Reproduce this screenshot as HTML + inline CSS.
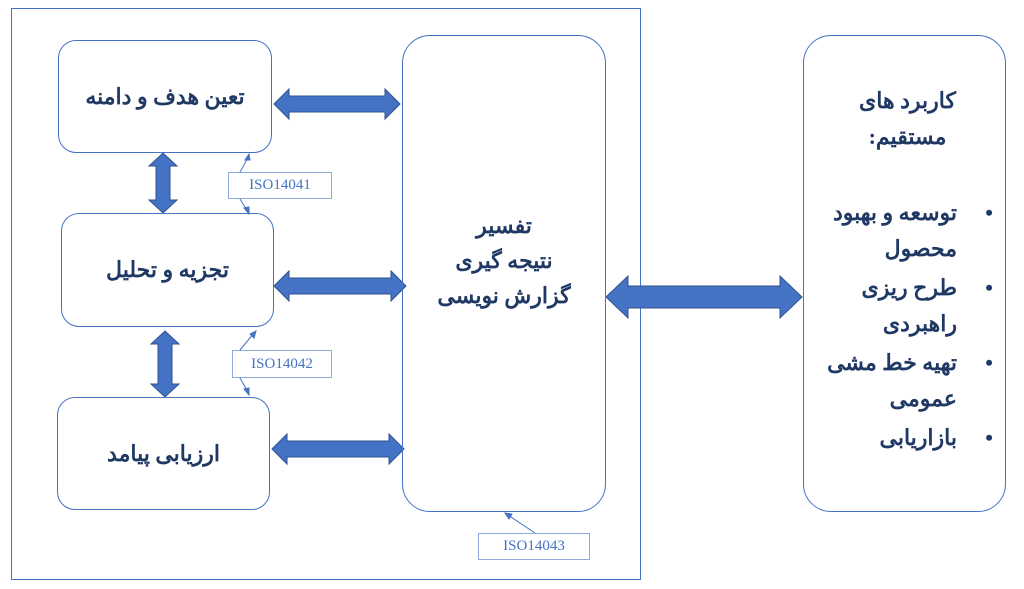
<!DOCTYPE html>
<html><head><meta charset="utf-8"><style>
body{margin:0;width:1024px;height:589px;background:#fff;position:relative;overflow:hidden;font-family:"Liberation Serif","Noto Sans CJK SC",serif;}
.b{position:absolute;border:1px solid #4472c4;border-radius:18px;box-sizing:border-box;display:flex;align-items:center;justify-content:center;text-align:center;color:#1f3864;font-size:22px;font-weight:bold;direction:rtl;}
.iso{position:absolute;border:1px solid #8faadc;box-sizing:border-box;color:#4472c4;font-size:15px;display:flex;align-items:center;justify-content:center;background:#fff;}
svg{position:absolute;left:0;top:0}
ul{list-style:none;margin:0;padding:0 48px 0 0;}
li{position:relative;margin-bottom:3px}
li::before{content:"•";position:absolute;right:-36px;top:0;}
</style></head><body>
<svg width="1024" height="589">
<rect x="11.5" y="8.5" width="629" height="571" fill="none" stroke="#4472c4"/>
<g fill="#4472c4" stroke="#2f528f" stroke-width="1">
<polygon points="274,104 289,89 289,96 385,96 385,89 400,104 385,119 385,112 289,112 289,119"/>
<polygon points="274,286 289,271 289,278 391,278 391,271 406,286 391,301 391,294 289,294 289,301"/>
<polygon points="272,449 287,434 287,441 389,441 389,434 404,449 389,464 389,457 287,457 287,464"/>
<polygon points="606,297 628,276 628,286 780,286 780,276 802,297 780,318 780,308 628,308 628,318"/>
<polygon points="163,153 177,166 170,166 170,200 177,200 163,213 149,200 156,200 156,166 149,166"/>
<polygon points="165,331 179,344 172,344 172,384 179,384 165,397 151,384 158,384 158,344 151,344"/>
</g>
<g stroke="#4472c4" stroke-width="1" fill="#4472c4">
<line x1="240" y1="172" x2="249" y2="156"/><polygon points="249,154 245,160 250,160"/>
<line x1="240" y1="199" x2="248" y2="212"/><polygon points="249,214 244,208 249,207"/>
<line x1="240" y1="350" x2="254" y2="333"/><polygon points="256,331 250,334 254,338"/>
<line x1="240" y1="378" x2="248" y2="392"/><polygon points="249,395 244,389 249,388"/>
<line x1="535" y1="533" x2="508" y2="515"/><polygon points="505,513 512,514 509,519"/>
</g>
</svg>
<div class="b" style="left:58px;top:40px;width:214px;height:113px">تعین هدف و دامنه</div>
<div class="b" style="left:61px;top:213px;width:213px;height:114px">تجزیه و تحلیل</div>
<div class="b" style="left:57px;top:397px;width:213px;height:113px">ارزیابی پیامد</div>
<div class="b" style="left:402px;top:35px;width:204px;height:477px;border-radius:28px;line-height:35px;padding-bottom:26px">تفسیر<br>نتیجه گیری<br>گزارش نویسی</div>
<div class="b" style="left:803px;top:35px;width:203px;height:477px;border-radius:28px;display:block;line-height:36px;padding-top:47px;text-align:right">
<div style="text-align:center;padding-left:6px">کاربرد های<br>مستقیم:</div>
<div style="height:40px"></div>
<ul>
<li>توسعه و بهبود محصول</li><li>طرح ریزی راهبردی</li><li>تهیه خط مشی عمومی</li><li>بازاریابی</li></ul>
</div>
<div class="iso" style="left:228px;top:172px;width:104px;height:27px">ISO14041</div>
<div class="iso" style="left:232px;top:350px;width:100px;height:28px">ISO14042</div>
<div class="iso" style="left:478px;top:533px;width:112px;height:27px">ISO14043</div>
</body></html>
